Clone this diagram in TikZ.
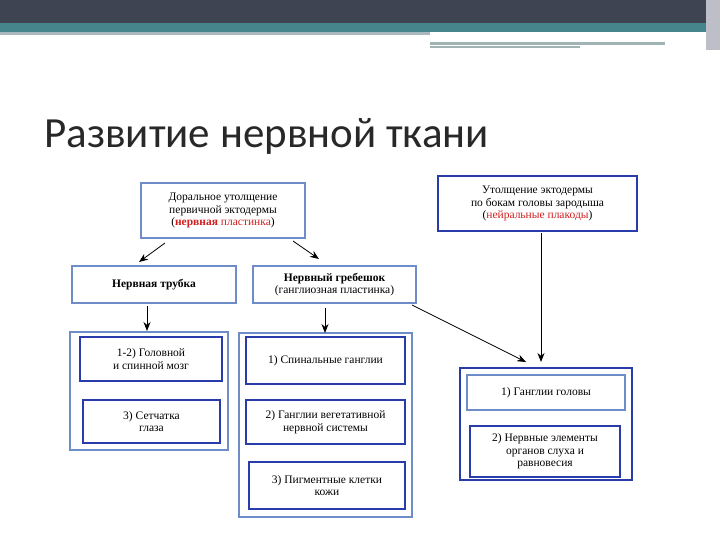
\documentclass[tikz,border=0pt]{standalone}
\usepackage{fontspec}
\setmainfont{Liberation Serif}
\newfontfamily\titlefont{Carlito}
\usetikzlibrary{arrows.meta}
\definecolor{bd}{RGB}{40,60,170}
\definecolor{bl}{RGB}{110,140,200}
\definecolor{rd}{RGB}{210,30,30}
\begin{document}
\begin{tikzpicture}[x=1pt,y=-1pt,
  bx/.style={draw=bd,line width=1.2pt,fill=white},
  grp/.style={draw=bd,line width=1.2pt,fill=white},
  tx/.style={font=\fontsize{11.5}{12.5}\selectfont,align=center,inner sep=0pt},
  arr/.style={-{Stealth[length=9pt,width=7pt]},line width=0.8pt}]
\useasboundingbox (0,0) rectangle (720,540);
\fill[white] (0,0) rectangle (720,540);
\fill[fill={rgb,255:red,63;green,68;blue,82}] (0,0) rectangle (720,23);
\fill[fill={rgb,255:red,69;green,133;blue,139}] (0,23) rectangle (720,32);
\fill[fill={rgb,255:red,170;green,185;blue,190}] (0,32) rectangle (430,35);
\fill[fill={rgb,255:red,160;green,180;blue,180}] (430,42) rectangle (665,45);
\fill[fill={rgb,255:red,160;green,180;blue,180}] (430,46) rectangle (580,48);
\fill[fill={rgb,255:red,190;green,190;blue,200}] (706,0) rectangle (720,50);
\node[anchor=base west,inner sep=0pt,font=\titlefont\fontsize{43}{46}\selectfont,text={rgb,255:red,40;green,40;blue,40}] (title) at (44,148) {Развитие нервной ткани};
% top boxes
\path[bx,draw=bl] (141,183) rectangle (305,238);
\node[tx] (a) at (223,210.5) {Доральное утолщение\\первичной эктодермы\\(\textcolor{rd}{\textbf{нервная} пластинка})};
\path[bx] (438,176) rectangle (637,231);
\node[tx] (b) at (537.5,203.5) {Утолщение эктодермы\\по бокам головы зародыша\\(\textcolor{rd}{нейральные плакоды})};
\path[bx,draw=bl] (72,266) rectangle (236,303);
\node[tx,font=\fontsize{11.5}{12.5}\selectfont\bfseries] (c) at (154,284.5) {Нервная трубка};
\path[bx,draw=bl] (253,266) rectangle (416,303);
\node[tx] (d) at (334.5,284.5) {\textbf{Нервный гребешок}\\(ганглиозная пластинка)};
% groups
\path[grp,draw=bl] (70,332) rectangle (228,450);
\path[grp] (80,337) rectangle (222,381);
\node[tx] (e1) at (151,359) {1-2) Головной\\и спинной мозг};
\path[grp] (83,400) rectangle (220,443);
\node[tx] (e2) at (151.5,421.5) {3) Сетчатка\\глаза};
\path[grp,draw=bl] (239,333) rectangle (412,517);
\path[grp] (246,337) rectangle (405,384);
\node[tx] (f1) at (325.5,360.5) {1) Спинальные ганглии};
\path[grp] (246,400) rectangle (405,444);
\node[tx] (f2) at (325.5,422) {2) Ганглии вегетативной\\нервной системы};
\path[grp] (249,462) rectangle (405,509);
\node[tx] (f3) at (327,485.5) {3) Пигментные клетки\\кожи};
\path[grp] (460,368) rectangle (632,480);
\path[grp,draw=bl] (467,375) rectangle (625,410);
\node[tx] (g1) at (546,392.5) {1) Ганглии головы};
\path[grp] (470,426) rectangle (620,477);
\node[tx] (g2) at (545,451.5) {2) Нервные элементы\\органов слуха и\\равновесия};
% arrows
\coordinate (a1) at (165,243); \coordinate (c1) at (139,262);
\coordinate (a2) at (293,241); \coordinate (d1) at (319,259);
\coordinate (c2) at (147,306); \coordinate (e0) at (147,331);
\coordinate (d2) at (325,308); \coordinate (f0) at (325,333);
\coordinate (d3) at (412,305); \coordinate (g0) at (526,362);
\coordinate (b1) at (541,233); \coordinate (g3) at (541,362);
\draw[arr] (a1) -- (c1);
\draw[arr] (a2) -- (d1);
\draw[arr] (c2) -- (e0);
\draw[arr] (d2) -- (f0);
\draw[arr] (d3) -- (g0);
\draw[arr] (b1) -- (g3);
\end{tikzpicture}
\end{document}
